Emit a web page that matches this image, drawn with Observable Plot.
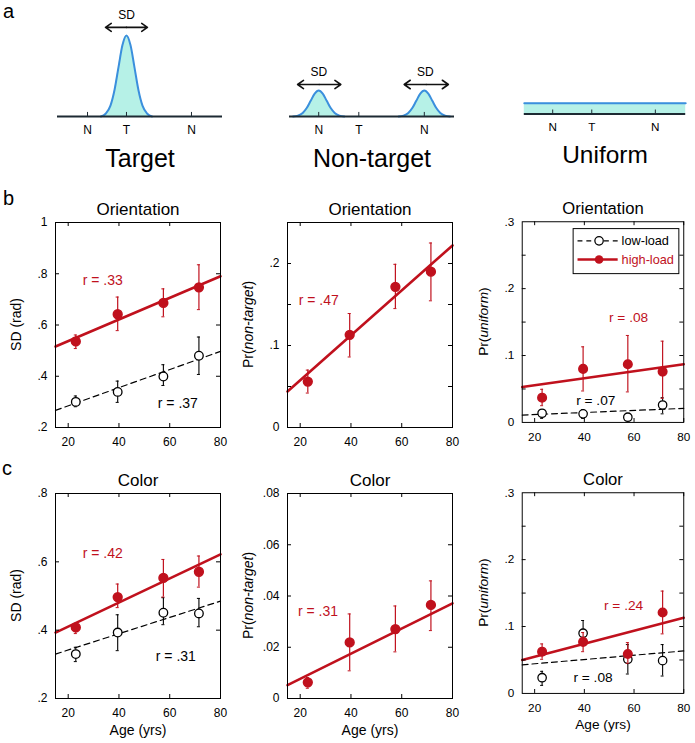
<!DOCTYPE html>
<html><head><meta charset="utf-8">
<script src="https://cdn.jsdelivr.net/npm/d3@7"></script>
<script src="https://cdn.jsdelivr.net/npm/@observablehq/plot@0.6"></script>
<style>
body{margin:0;background:#fff;}
#fig{position:relative;width:695px;height:743px;font-family:"Liberation Sans",Arial,sans-serif;overflow:hidden;background:#fff;}
.pn{position:absolute;}
.letter{position:absolute;font-size:20px;line-height:1;color:#000;}
</style></head><body><div id="fig"></div>
<script>
// ---------------- data ----------------
const ages = [23, 39.5, 57.5, 71.5];
const fitAges = [15, 80];
const xTicks = [20, 40, 60, 80];

// b: Orientation, SD
const b1HighMean = [0.536, 0.642, 0.686, 0.747];
const b1HighLo   = [0.508, 0.578, 0.632, 0.660];
const b1HighHi   = [0.561, 0.709, 0.741, 0.835];
const b1LowMean  = [0.300, 0.339, 0.399, 0.480];
const b1LowLo    = [0.281, 0.298, 0.364, 0.407];
const b1LowHi    = [0.323, 0.381, 0.445, 0.553];
const b1HighFit  = [0.516, 0.790];
const b1LowFit   = [0.267, 0.497];

// b: Orientation, Pr(non-target)
const b2HighMean = [0.056, 0.113, 0.1715, 0.190];
const b2HighLo   = [0.042, 0.086, 0.145, 0.1545];
const b2HighHi   = [0.070, 0.139, 0.199, 0.225];
const b2HighFit  = [0.044, 0.222];

// b: Orientation, Pr(uniform)
const b3HighMean = [0.037, 0.080, 0.087, 0.076];
const b3HighLo   = [0.025, 0.047, 0.0456, 0.036];
const b3HighHi   = [0.0495, 0.113, 0.130, 0.1215];
const b3LowMean  = [0.0137, 0.0128, 0.0078, 0.026];
const b3LowLo    = [0.006, 0.006, 0.003, 0.0128];
const b3LowHi    = [0.0187, 0.019, 0.0128, 0.037];
const b3HighFit  = [0.053, 0.087];
const b3LowFit   = [0.011, 0.021];

// c: Color, SD
const c1HighMean = [0.408, 0.497, 0.553, 0.571];
const c1HighLo   = [0.390, 0.466, 0.497, 0.526];
const c1HighHi   = [0.417, 0.535, 0.607, 0.617];
const c1LowMean  = [0.330, 0.393, 0.451, 0.449];
const c1LowLo    = [0.308, 0.340, 0.416, 0.410];
const c1LowHi    = [0.350, 0.445, 0.495, 0.493];
const c1HighFit  = [0.393, 0.622];
const c1LowFit   = [0.330, 0.485];

// c: Color, Pr(non-target)
const c2HighMean = [0.0063, 0.0219, 0.0271, 0.0365];
const c2HighLo   = [0.0040, 0.0108, 0.0182, 0.0265];
const c2HighHi   = [0.0082, 0.0330, 0.0361, 0.0459];
const c2HighFit  = [0.0052, 0.0371];

// c: Color, Pr(uniform)
const c3HighMean = [0.0624, 0.077, 0.059, 0.121];
const c3HighLo   = [0.051, 0.0624, 0.045, 0.089];
const c3HighHi   = [0.074, 0.091, 0.076, 0.153];
const c3LowMean  = [0.0235, 0.090, 0.051, 0.049];
const c3LowLo    = [0.012, 0.076, 0.029, 0.026];
const c3LowHi    = [0.033, 0.109, 0.073, 0.073];
const c3HighFit  = [0.050, 0.113];
const c3LowFit   = [0.0427, 0.0635];

// tick labels
const yLabelsSD1 = [0.2, 0.4, 0.6, 0.8, 1];
const yLabelsNT1 = [0, 0.1, 0.2];
const yMarksNT1  = [0.05, 0.1, 0.15, 0.2];
const yLabelsU   = [0, 0.1, 0.2, 0.3];
const yMarksU    = [0.05, 0.1, 0.15, 0.2, 0.25];
const yLabelsSD2 = [0.2, 0.4, 0.6, 0.8];
const yLabelsNT2 = [0, 0.02, 0.04, 0.06, 0.08];

// texts
const rLabels = {b1:["r = .33","r = .37"], b2:["r = .47"], b3:["r = .08","r = .07"],
                 c1:["r = .42","r = .31"], c2:["r = .31"], c3:["r = .24","r = .08"]};
const legendLabels = ["low-load", "high-load"];
const ylabSD = [["SD (rad)", false]];
const ylabNT = [["Pr(", false], ["non-target", true], [")", false]];
const ylabU  = [["Pr(", false], ["uniform", true], [")", false]];

// schematic (panel a)
const schemaLabels = ["N", "T", "N"];
const targetPos = [18.2, 41.8, 81.2];
const nontargetPos = [17.7, 42, 81.7];
const uniformPos = [17.6, 41.8, 81.2];
const bellOffsets = [-3.2, -2.6, -2, -1.5, -1, -0.5, 0, 0.5, 1, 1.5, 2, 2.6, 3.2];
const bellHeights = [0, 0.034, 0.135, 0.325, 0.607, 0.882, 1, 0.882, 0.607, 0.325, 0.135, 0.034, 0];

// ---------------- drawing ----------------
const RED = "#c0111d";
const fig = document.getElementById("fig");
const FONT = "Liberation Sans, Arial, sans-serif";

function place(el, left, top) {
  const d = document.createElement("div");
  d.className = "pn"; d.style.left = left + "px"; d.style.top = top + "px";
  d.appendChild(el); fig.appendChild(d);
}
const rows = (m, lo, hi) => ages.map((a, i) => ({age: a, mean: m[i], lo: lo[i], hi: hi[i]}));
const fitRows = f => fitAges.map((a, i) => ({age: a, v: f[i]}));
const fmt = d => d === 0 ? "0" : String(d).replace(/^0/, "");

const FW = 165, FH = 205, ML = 60, MT = 35, MR = 12, MB = 50;

function panel(cfg) {
  const W = ML + FW + MR, H = MT + FH + MB;
  const marks = [];
  if (cfg.lowFit) marks.push(Plot.line(fitRows(cfg.lowFit), {x: "age", y: "v", stroke: "#000", strokeWidth: 1.2, strokeDasharray: "6,4"}));
  marks.push(Plot.line(fitRows(cfg.highFit), {x: "age", y: "v", stroke: RED, strokeWidth: 2.6}));
  if (cfg.low) {
    const L = rows(...cfg.low);
    marks.push(Plot.ruleX(L, {x: "age", y1: "lo", y2: "hi", stroke: "#000", strokeWidth: 1.1}));
    marks.push(Plot.ruleY(L, {y: "hi", x1: d => d.age - 0.6, x2: d => d.age + 0.6, stroke: "#000"}));
    marks.push(Plot.ruleY(L, {y: "lo", x1: d => d.age - 0.6, x2: d => d.age + 0.6, stroke: "#000"}));
    marks.push(Plot.dot(L, {x: "age", y: "mean", r: 4.3, fill: "#fff", stroke: "#000", strokeWidth: 1.3}));
  }
  const Hh = rows(...cfg.high);
  marks.push(Plot.ruleX(Hh, {x: "age", y1: "lo", y2: "hi", stroke: RED, strokeWidth: 1.2}));
  marks.push(Plot.ruleY(Hh, {y: "hi", x1: d => d.age - 0.6, x2: d => d.age + 0.6, stroke: RED}));
  marks.push(Plot.ruleY(Hh, {y: "lo", x1: d => d.age - 0.6, x2: d => d.age + 0.6, stroke: RED}));
  marks.push(Plot.dot(Hh, {x: "age", y: "mean", r: 4.4, fill: RED, stroke: RED}));
  // inward ticks on all four sides
  marks.push(Plot.tickX(xTicks, {x: d => d, insetTop: FH - 4, stroke: "#000"}));
  marks.push(Plot.tickX(xTicks, {x: d => d, insetBottom: FH - 4, stroke: "#000"}));
  marks.push(Plot.tickY(cfg.yMarks, {y: d => d, insetRight: FW - 4, stroke: "#000"}));
  marks.push(Plot.tickY(cfg.yMarks, {y: d => d, insetLeft: FW - 4, stroke: "#000"}));
  marks.push(Plot.frame({stroke: "#000", strokeWidth: 1}));
  marks.push(Plot.axisX({ticks: xTicks, tickSize: 0, tickPadding: 10, fontSize: 12, label: null}));
  marks.push(Plot.axisY({ticks: cfg.yLabels, tickFormat: fmt, tickSize: 0, tickPadding: 8, fontSize: 12, label: null}));
  marks.push(Plot.text([cfg.title], {text: d => d, frameAnchor: "top", dy: -13, fontSize: 17, lineAnchor: "middle"}));
  if (cfg.age) marks.push(Plot.text(["Age (yrs)"], {text: d => d, frameAnchor: "bottom", dy: 32, fontSize: 14, lineAnchor: "middle"}));
  cfg.r.forEach(([t, x, y, c]) => marks.push(Plot.text([t], {text: d => d, x: () => x, y: () => y, fill: c, fontSize: 14, lineAnchor: "middle"})));
  const svg = Plot.plot({
    width: W, height: H, marginLeft: ML, marginTop: MT, marginRight: MR, marginBottom: MB,
    x: {domain: [15, 80]}, y: {domain: cfg.yDomain},
    style: {fontFamily: FONT, fontSize: "12px", background: "transparent", overflow: "visible", color: "#000"},
    marks
  });
  const t = d3.select(svg).append("text")
    .attr("transform", `translate(${ML - 39},${MT + FH / 2}) rotate(-90)`)
    .attr("text-anchor", "middle").attr("dy", "0.35em").attr("font-size", 14).attr("fill", "#000")
    .attr("font-family", FONT);
  cfg.ylab.forEach(([s, it]) => t.append("tspan").text(s).attr("font-style", it ? "italic" : null));
  if (cfg.legend) {
    const g = d3.select(svg).append("g").attr("transform", `translate(${ML},${MT})`).attr("font-family", FONT);
    g.append("rect").attr("x", 52.5).attr("y", 7.5).attr("width", 108).attr("height", 46).attr("fill", "#fff").attr("stroke", "#000");
    g.append("line").attr("x1", 57).attr("x2", 98).attr("y1", 20).attr("y2", 20).attr("stroke", "#000").attr("stroke-width", 1.2).attr("stroke-dasharray", "5,4");
    g.append("circle").attr("cx", 79).attr("cy", 20).attr("r", 4.3).attr("fill", "#fff").attr("stroke", "#000").attr("stroke-width", 1.3);
    g.append("text").attr("x", 102).attr("y", 20).attr("dy", "0.35em").attr("font-size", 13).attr("text-anchor", "start").text(legendLabels[0]);
    g.append("line").attr("x1", 57).attr("x2", 98).attr("y1", 39).attr("y2", 39).attr("stroke", RED).attr("stroke-width", 2.6);
    g.append("circle").attr("cx", 79).attr("cy", 39).attr("r", 4.4).attr("fill", RED);
    g.append("text").attr("x", 102).attr("y", 39).attr("dy", "0.35em").attr("font-size", 13).attr("text-anchor", "start").attr("fill", RED).text(legendLabels[1]);
  }
  place(svg, cfg.left - ML, cfg.top - MT);
}

panel({left: 55, top: 222, title: "Orientation", yDomain: [0.2, 1], yLabels: yLabelsSD1, yMarks: yLabelsSD1, ylab: ylabSD,
  high: [b1HighMean, b1HighLo, b1HighHi], highFit: b1HighFit, low: [b1LowMean, b1LowLo, b1LowHi], lowFit: b1LowFit,
  r: [[rLabels.b1[0], 33.6, 0.774, RED], [rLabels.b1[1], 63.2, 0.294, "#000"]]});
panel({left: 287, top: 222, title: "Orientation", yDomain: [0, 0.25], yLabels: yLabelsNT1, yMarks: yMarksNT1, ylab: ylabNT,
  high: [b2HighMean, b2HighLo, b2HighHi], highFit: b2HighFit,
  r: [[rLabels.b2[0], 27.3, 0.155, RED]]});
panel({left: 523, top: 222, title: "Orientation", yDomain: [0, 0.3], yLabels: yLabelsU, yMarks: yMarksU, ylab: ylabU,
  high: [b3HighMean, b3HighLo, b3HighHi], highFit: b3HighFit, low: [b3LowMean, b3LowLo, b3LowHi], lowFit: b3LowFit, legend: true,
  r: [[rLabels.b3[0], 57.8, 0.157, RED], [rLabels.b3[1], 44.6, 0.032, "#000"]]});
panel({left: 55, top: 493, title: "Color", yDomain: [0.2, 0.8], yLabels: yLabelsSD2, yMarks: yLabelsSD2, ylab: ylabSD, age: true,
  high: [c1HighMean, c1HighLo, c1HighHi], highFit: c1HighFit, low: [c1LowMean, c1LowLo, c1LowHi], lowFit: c1LowFit,
  r: [[rLabels.c1[0], 33.6, 0.624, RED], [rLabels.c1[1], 62.4, 0.322, "#000"]]});
panel({left: 287, top: 493, title: "Color", yDomain: [0, 0.08], yLabels: yLabelsNT2, yMarks: yLabelsNT2, ylab: ylabNT, age: true,
  high: [c2HighMean, c2HighLo, c2HighHi], highFit: c2HighFit,
  r: [[rLabels.c2[0], 27, 0.0339, RED]]});
panel({left: 523, top: 493, title: "Color", yDomain: [0, 0.3], yLabels: yLabelsU, yMarks: yMarksU, ylab: ylabU, age: true,
  high: [c3HighMean, c3HighLo, c3HighHi], highFit: c3HighFit, low: [c3LowMean, c3LowLo, c3LowHi], lowFit: c3LowFit,
  r: [[rLabels.c3[0], 55.8, 0.132, RED], [rLabels.c3[1], 43.5, 0.0236, "#000"]]});

// ---------- panel a schematics ----------
const FILL = "#b6f1e7", CURVE = "#3b8fdd", BASE = "#1d2a33";
function bell(center, sd, peak, id) { return bellOffsets.map((o, i) => ({x: center + o * sd, y: bellHeights[i] * peak, id})); }
function schema(cfg) {
  const marks = [];
  if (cfg.bells) {
    marks.push(Plot.areaY(cfg.bells, {x: "x", y: "y", z: "id", fill: FILL, curve: "monotone-x"}));
    marks.push(Plot.line(cfg.bells, {x: "x", y: "y", z: "id", stroke: CURVE, strokeWidth: 2, curve: "monotone-x"}));
  }
  if (cfg.uniform) {
    marks.push(Plot.areaY(cfg.uniform, {x: "x", y: "y", fill: FILL}));
    marks.push(Plot.line(cfg.uniform, {x: "x", y: "y", stroke: CURVE, strokeWidth: 2}));
  }
  marks.push(Plot.ruleY([0], {stroke: BASE, strokeWidth: 2}));
  marks.push(Plot.ruleX(cfg.pos, {x: d => d, y1: 0, y2: 0.05, stroke: BASE, strokeWidth: 1}));
  marks.push(Plot.text(schemaLabels, {x: (d, i) => cfg.pos[i], y: () => 0, text: d => d, dy: 14, fontSize: 12, lineAnchor: "middle"}));
  (cfg.arrows || []).forEach(a => {
    const halves = [{m: (a.x1 + a.x2) / 2, e: a.x1}, {m: (a.x1 + a.x2) / 2, e: a.x2}];
    marks.push(Plot.arrow(halves, {x1: "m", x2: "e", y1: () => a.y, y2: () => a.y, stroke: "#111", strokeWidth: 1.6, headLength: 7, headAngle: 70}));
    marks.push(Plot.text(["SD"], {x: () => a.lx, y: () => a.ly, text: d => d, fontSize: 12, lineAnchor: "middle"}));
  });
  marks.push(Plot.text([cfg.title], {text: d => d, frameAnchor: "bottom", dy: 42, fontSize: 25, lineAnchor: "middle"}));
  const svg = Plot.plot({
    width: 185, height: 175, marginLeft: 10, marginRight: 10, marginTop: 35, marginBottom: 59,
    x: {domain: [0, 100], axis: null}, y: {domain: [0, 1], axis: null},
    style: {fontFamily: FONT, background: "transparent", overflow: "visible", color: "#000"},
    marks
  });
  place(svg, cfg.left - 10, 0);
}
schema({left: 57, title: "Target", pos: targetPos, bells: bell(41.8, 4.85, 1, 0),
  arrows: [{x1: 29.1, x2: 54.5, y: 1.1, lx: 41.8, ly: 1.247}]});
schema({left: 289, title: "Non-target", pos: nontargetPos, bells: [...bell(17.7, 4.85, 0.32, 0), ...bell(81.7, 4.85, 0.32, 1)],
  arrows: [{x1: 4.9, x2: 31.1, y: 0.395, lx: 17.7, ly: 0.543}, {x1: 69.5, x2: 96.3, y: 0.395, lx: 82.3, ly: 0.543}]});
schema({left: 524, title: "Uniform", pos: uniformPos, uniform: [{x: 0, y: 0.136}, {x: 100, y: 0.136}]});

// panel letters
[["a", 3, 0.5], ["b", 3, 188], ["c", 2, 458]].forEach(([t, x, y]) => {
  const d = document.createElement("div");
  d.className = "letter"; d.style.left = x + "px"; d.style.top = y + "px"; d.textContent = t;
  fig.appendChild(d);
});
</script></body></html>
